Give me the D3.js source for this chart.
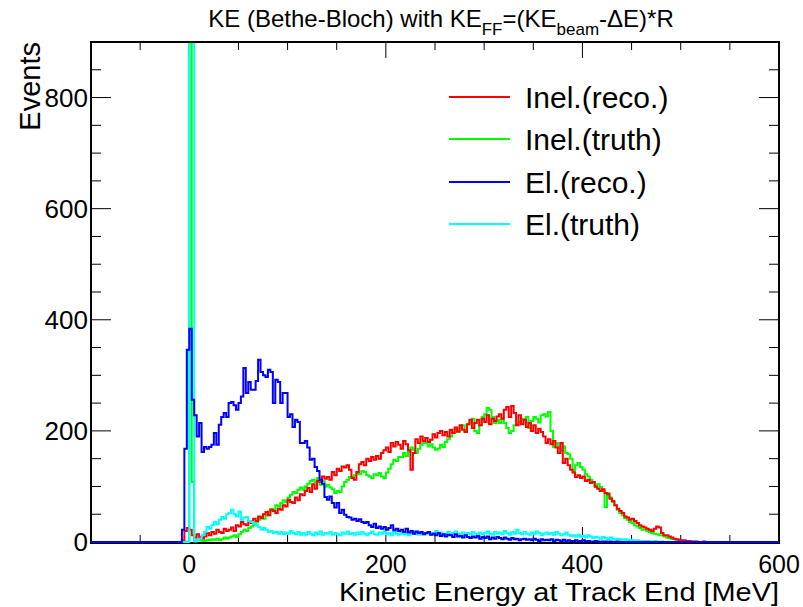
<!DOCTYPE html>
<html>
<head>
<meta charset="utf-8">
<script src="https://cdn.jsdelivr.net/npm/d3@7"></script>
<style>
  body { margin: 0; background: #fff; }
  text { font-family: "Liberation Sans", Arial, Helvetica, sans-serif; fill: #000; }
</style>
</head>
<body>
<div id="chart"></div>
<script>
// histogram binning (MeV)
var bin_low = -10;
var bin_width = 2.5;
var x_domain = [-100, 600];
var y_domain = [0, 900];

var x_tick_labels = [0, 200, 400, 600];
var y_tick_labels = [0, 200, 400, 600, 800];

var legend_names = ['Inel.(reco.)', 'Inel.(truth)', 'El.(reco.)', 'El.(truth)'];

// counts per bin, starting at bin_low
var inel_reco = [
  0,3,20,25,22,12,8,14,9,6,
  10,16,12,18,15,22,18,16,24,20,
  22,26,20,30,28,36,32,30,38,34,
  42,38,46,43,50,54,48,58,56,52,
  60,58,66,64,76,72,70,80,75,86,
  84,92,97,90,104,96,110,108,118,114,
  117,112,126,120,132,128,136,134,138,130,
  115,112,126,140,144,138,150,146,153,148,
  155,150,160,165,170,162,178,172,180,175,
  168,182,176,165,130,160,185,178,190,182,
  187,180,184,194,188,196,200,192,198,190,
  202,196,206,199,210,202,198,212,220,205,
  214,220,210,222,216,228,212,222,218,226,
  230,222,238,243,225,245,232,210,228,212,
  220,207,214,200,210,196,204,198,190,178,
  185,176,182,170,160,178,142,150,138,130,
  125,117,120,115,118,110,112,106,108,100,
  96,92,95,88,86,78,74,66,60,56,
  52,46,44,40,42,38,34,30,28,26,
  24,22,20,24,28,26,16,12,12,10,
  8,6,5,4,3,3,2,2,1,1,
  1,0,0,1
];

var inel_truth = [
  0,0,0,1,2000,108,2,4,3,2,
  2,4,3,5,4,6,3,5,8,6,
  8,10,12,9,14,18,22,20,25,28,
  30,35,40,45,42,48,55,60,58,66,
  64,70,75,72,80,85,90,88,94,98,
  94,100,105,110,112,108,115,103,110,100,
  103,98,95,88,92,90,100,108,112,117,
  117,120,124,122,128,126,120,118,115,122,
  120,124,118,115,125,132,140,148,146,153,
  153,160,155,162,170,166,160,168,175,178,
  178,172,176,170,166,168,175,171,180,185,
  190,196,202,198,206,210,200,212,215,222,
  200,196,210,225,230,241,238,225,214,220,
  214,222,214,205,196,200,210,212,216,222,
  220,225,205,218,225,222,215,228,230,226,
  234,200,171,178,170,165,172,160,158,150,
  126,138,142,135,130,122,118,112,108,99,
  104,99,92,63,88,80,72,66,58,52,
  48,43,40,36,34,30,28,25,22,22,
  20,18,16,15,14,12,12,10,8,7,
  6,5,4,3,2,2,1,1,0,1
];

var el_reco = [
  0,22,168,346,384,256,228,190,214,162,
  171,168,171,175,196,175,211,225,232,225,
  250,252,246,238,250,262,313,268,288,274,
  274,290,328,306,300,297,310,306,250,292,
  288,250,268,268,225,230,207,220,216,178,
  178,182,170,148,150,135,128,112,105,81,
  76,82,70,62,70,52,58,49,45,44,
  40,42,38,41,36,34,36,30,27,33,
  25,28,24,27,22,25,30,21,24,20,
  22,18,24,17,20,15,19,16,18,14,
  16,18,13,15,12,16,11,14,10,13,
  12,9,14,10,11,8,12,9,7,10,
  8,11,6,9,7,10,5,8,6,9,
  7,5,8,6,4,7,5,6,3,5,
  6,4,5,3,6,4,2,5,3,4,
  3,5,2,4,3,2,4,1,3,2,
  2,3,1,2,3,1,2,1,1,2,
  1,0,1,1,0,1,0,0,1,0
];

var el_truth = [
  0,0,0,0,2000,2000,1,3,6,12,
  18,27,24,30,36,32,40,45,42,50,
  52,58,50,46,55,40,44,45,38,36,
  34,30,27,22,25,22,18,20,16,18,
  15,18,14,17,15,20,16,14,18,13,
  16,13,18,15,12,17,14,19,13,16,
  15,18,13,16,14,12,17,15,19,14,
  16,13,17,14,18,15,12,16,19,14,
  13,17,15,19,14,16,12,18,15,13,
  17,14,16,12,18,15,19,13,16,14,
  15,18,13,16,20,14,17,12,15,18,
  14,16,19,13,15,17,12,16,14,18,
  15,13,17,14,16,19,15,13,18,15,
  17,14,20,16,13,18,15,22,16,14,
  18,15,13,17,14,19,16,12,15,17,
  14,16,13,18,15,12,14,17,13,11,
  12,10,13,9,11,8,12,10,7,9,
  8,6,9,7,5,8,6,4,6,5,
  4,5,3,4,3,2,3,2,2,1,
  2,1,1,2,1,0,1,0,0,0
];

var series_counts = [inel_reco, inel_truth, el_reco, el_truth];
var series_colors = ['#ff0000', '#00ff00', '#0000ff', '#00ffff'];
// drawing order (last one on top)
var draw_order = [1, 0, 3, 2];

var width = 803, height = 607;
var frame = {left: 91, right: 779, top: 42, bottom: 543};

var svg = d3.select('#chart').append('svg')
  .attr('width', width)
  .attr('height', height);

var x = d3.scaleLinear().domain(x_domain).range([frame.left, frame.right]);
var y = d3.scaleLinear().domain(y_domain).range([frame.bottom - 1, frame.top]);

// frame
svg.append('rect')
  .attr('x', frame.left)
  .attr('y', frame.top)
  .attr('width', frame.right - frame.left)
  .attr('height', frame.bottom - frame.top)
  .attr('fill', 'none')
  .attr('stroke', '#000')
  .attr('stroke-width', 2);

// ticks on all four sides, minor every 50
function draw_ticks(){
  var g = svg.append('g').attr('stroke', '#000').attr('stroke-width', 1);
  d3.range(x_domain[0] + 50, x_domain[1], 50).forEach(function(v){
    var len = (v % 200 === 0) ? 16 : 8;
    g.append('line').attr('x1', x(v)).attr('x2', x(v))
      .attr('y1', frame.bottom).attr('y2', frame.bottom - len);
    g.append('line').attr('x1', x(v)).attr('x2', x(v))
      .attr('y1', frame.top).attr('y2', frame.top + len);
  });
  d3.range(50, y_domain[1], 50).forEach(function(v){
    var len = (v % 200 === 0) ? 20 : 10;
    g.append('line').attr('y1', y(v)).attr('y2', y(v))
      .attr('x1', frame.left).attr('x2', frame.left + len);
    g.append('line').attr('y1', y(v)).attr('y2', y(v))
      .attr('x1', frame.right).attr('x2', frame.right - len);
  });
}
draw_ticks();

// histograms
svg.append('clipPath').attr('id', 'frame_clip')
  .append('rect')
  .attr('x', frame.left)
  .attr('y', frame.top + 1)
  .attr('width', frame.right - frame.left)
  .attr('height', frame.bottom - frame.top + 2);

function make_bins(counts){
  var n = Math.round((x_domain[1] - x_domain[0]) / bin_width);
  var pts = [];
  for (var i = 0; i < n; i++){
    var x0 = x_domain[0] + i * bin_width;
    var idx = Math.round((x0 - bin_low) / bin_width);
    var v = (idx >= 0 && idx < counts.length) ? counts[idx] : 0;
    pts.push([x0, v]);
  }
  pts.push([x_domain[1], pts[pts.length - 1][1]]);
  return pts;
}

var hist_line = d3.line()
  .x(function(d){ return x(d[0]); })
  .y(function(d){ return y(d[1]); })
  .curve(d3.curveStepAfter);

var hist_g = svg.append('g').attr('clip-path', 'url(#frame_clip)');
draw_order.forEach(function(k){
  hist_g.append('path')
    .datum(make_bins(series_counts[k]))
    .attr('d', hist_line)
    .attr('fill', 'none')
    .attr('stroke', series_colors[k])
    .attr('stroke-width', 2);
});

// tick labels
svg.append('g').selectAll('text')
  .data(x_tick_labels)
  .enter().append('text')
  .attr('x', function(d){ return x(d); })
  .attr('y', 573)
  .attr('text-anchor', 'middle')
  .style('font-size', '25px')
  .text(function(d){ return d; });

svg.append('g').selectAll('text')
  .data(y_tick_labels)
  .enter().append('text')
  .attr('x', 88)
  .attr('y', function(d){ return y(d) + 9; })
  .attr('text-anchor', 'end')
  .style('font-size', '26px')
  .text(function(d){ return d; });

// axis titles
svg.append('text')
  .attr('x', frame.right)
  .attr('y', 601)
  .attr('text-anchor', 'end')
  .attr('textLength', 440)
  .attr('lengthAdjust', 'spacingAndGlyphs')
  .style('font-size', '26px')
  .text('Kinetic Energy at Track End [MeV]');

svg.append('text')
  .attr('transform', 'translate(40,' + frame.top + ') rotate(-90)')
  .attr('text-anchor', 'end')
  .style('font-size', '29px')
  .text('Events');

// title with subscripts
var title = svg.append('text')
  .attr('x', 441)
  .attr('y', 27)
  .attr('text-anchor', 'middle')
  .style('font-size', '24px');
title.append('tspan').text('KE (Bethe-Bloch) with KE');
title.append('tspan').attr('dy', 8).style('font-size', '17px').text('FF');
title.append('tspan').attr('dy', -8).text('=(KE');
title.append('tspan').attr('dy', 8).style('font-size', '17px').text('beam');
title.append('tspan').attr('dy', -8).text('-\u0394E)*R');

// legend
var legend_y = [97, 139, 182, 224];
var legend = svg.append('g');
legend_names.forEach(function(name, i){
  legend.append('line')
    .attr('x1', 449).attr('x2', 510)
    .attr('y1', legend_y[i]).attr('y2', legend_y[i])
    .attr('stroke', series_colors[i])
    .attr('stroke-width', 2);
  legend.append('text')
    .attr('x', 525)
    .attr('y', legend_y[i] + 11)
    .style('font-size', '30px')
    .text(name);
});
</script>
</body>
</html>
